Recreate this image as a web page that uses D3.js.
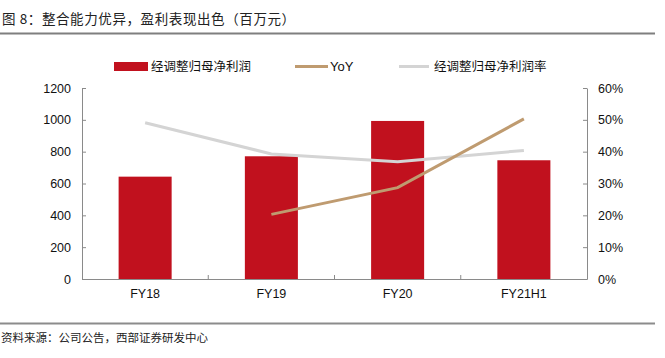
<!DOCTYPE html>
<html>
<head>
<meta charset="utf-8">
<script src="https://cdn.jsdelivr.net/npm/d3@7"></script>
<style>
  body { margin: 0; background: #fff; }
  svg { display: block; }
  .cjk { font-family: "Noto Sans CJK SC", sans-serif; }
  .num { font-family: "Liberation Sans", Arial, sans-serif; }
</style>
</head>
<body>
<div id="chart"></div>
<script>
// data
var categories = ["FY18", "FY19", "FY20", "FY21H1"];
var profit = [643, 771, 993, 746];          // 经调整归母净利润 (百万元)
var yoy = [null, 0.203, 0.287, 0.503];       // YoY
var margin_rate = [0.491, 0.393, 0.368, 0.404]; // 经调整归母净利润率
var leftTicks = [0, 200, 400, 600, 800, 1000, 1200];
var rightTicks = [0, 0.1, 0.2, 0.3, 0.4, 0.5, 0.6];

var width = 665, height = 358;
var plot = { left: 82, right: 587, top: 88, bottom: 279 };

var svg = d3.select("#chart").append("svg")
    .attr("width", width)
    .attr("height", height);

// title + rules
svg.append("text")
    .attr("class", "cjk")
    .attr("x", 2).attr("y", 24)
    .attr("font-size", 13.5)
    .attr("letter-spacing", 0.6)
    .attr("fill", "#222")
    .text("图 8：整合能力优异，盈利表现出色（百万元）");

svg.append("line")
    .attr("x1", 0).attr("x2", 655)
    .attr("y1", 33.5).attr("y2", 33.5)
    .attr("stroke", "#7f7f7f").attr("stroke-width", 2);

svg.append("line")
    .attr("x1", 0).attr("x2", 655)
    .attr("y1", 323.5).attr("y2", 323.5)
    .attr("stroke", "#8c8c8c").attr("stroke-width", 2);

svg.append("text")
    .attr("class", "cjk")
    .attr("x", 1).attr("y", 341.5)
    .attr("font-size", 11.5)
    .attr("fill", "#222")
    .text("资料来源：公司公告，西部证券研发中心");

// scales
var x = d3.scaleBand()
    .domain(categories)
    .range([plot.left, plot.right])
    .paddingInner(0.58)
    .paddingOuter(0.29);

var xc = d3.scaleBand().domain(categories).range([plot.left, plot.right]);

var yL = d3.scaleLinear().domain([0, 1200]).range([plot.bottom, plot.top]);
var yR = d3.scaleLinear().domain([0, 0.6]).range([plot.bottom, plot.top]);

// bars
svg.append("g")
    .selectAll("rect")
    .data(categories)
    .enter()
    .append("rect")
    .attr("x", function (d) { return x(d); })
    .attr("width", x.bandwidth())
    .attr("y", function (d, i) { return yL(profit[i]); })
    .attr("height", function (d, i) { return plot.bottom - yL(profit[i]); })
    .attr("fill", "#c1111e");

// axes
var axisColor = "#8a8a8a";

var left = svg.append("g")
    .attr("transform", "translate(" + plot.left + ",0)")
    .call(d3.axisRight(yL).tickValues(leftTicks).tickSize(4).tickSizeOuter(0).tickFormat(d3.format("d")));
left.selectAll("text").attr("x", -11).attr("text-anchor", "end");

var right = svg.append("g")
    .attr("transform", "translate(" + plot.right + ",0)")
    .call(d3.axisLeft(yR).tickValues(rightTicks).tickSize(4).tickSizeOuter(0).tickFormat(d3.format(".0%")));
right.selectAll("text").attr("x", 11).attr("text-anchor", "start");

var bottom = svg.append("g")
    .attr("transform", "translate(0," + plot.bottom + ")")
    .call(d3.axisBottom(xc).tickSize(0).tickSizeOuter(0));
bottom.selectAll("text").attr("dy", "1.25em");

// category separators
svg.append("g")
    .selectAll("line")
    .data(categories.slice(1))
    .enter()
    .append("line")
    .attr("x1", function (d) { return xc(d); })
    .attr("x2", function (d) { return xc(d); })
    .attr("y1", plot.bottom)
    .attr("y2", plot.bottom - 4)
    .attr("stroke", axisColor);

[left, right, bottom].forEach(function (g) {
    g.selectAll("path, line").attr("stroke", axisColor);
    g.selectAll("text")
        .attr("class", "num")
        .attr("font-size", 12.5)
        .attr("fill", "#111");
});

// lines
var lineMaker = d3.line()
    .defined(function (d) { return d.v != null; })
    .x(function (d) { return xc(d.c) + xc.bandwidth() / 2; })
    .y(function (d) { return yR(d.v); });

function pairs(vals) {
    return categories.map(function (c, i) { return { c: c, v: vals[i] }; });
}

svg.append("path")
    .datum(pairs(margin_rate))
    .attr("d", lineMaker)
    .attr("fill", "none")
    .attr("stroke", "#d4d4d4")
    .attr("stroke-width", 3);

svg.append("path")
    .datum(pairs(yoy))
    .attr("d", lineMaker)
    .attr("fill", "none")
    .attr("stroke", "#bf9b70")
    .attr("stroke-width", 3);

// legend
var legend = svg.append("g");
legend.append("rect")
    .attr("x", 114).attr("y", 62).attr("width", 34).attr("height", 9)
    .attr("fill", "#c1111e");
legend.append("text")
    .attr("class", "cjk")
    .attr("x", 151).attr("y", 71)
    .attr("font-size", 12.5)
    .attr("fill", "#111")
    .text("经调整归母净利润");

legend.append("line")
    .attr("x1", 295).attr("x2", 328).attr("y1", 66.5).attr("y2", 66.5)
    .attr("stroke", "#bf9b70").attr("stroke-width", 3);
legend.append("text")
    .attr("class", "num")
    .attr("x", 330).attr("y", 71)
    .attr("font-size", 13)
    .attr("fill", "#111")
    .text("YoY");

legend.append("line")
    .attr("x1", 399).attr("x2", 429).attr("y1", 66.5).attr("y2", 66.5)
    .attr("stroke", "#d4d4d4").attr("stroke-width", 3);
legend.append("text")
    .attr("class", "cjk")
    .attr("x", 434).attr("y", 71)
    .attr("font-size", 12.5)
    .attr("fill", "#111")
    .text("经调整归母净利润率");
</script>
</body>
</html>
